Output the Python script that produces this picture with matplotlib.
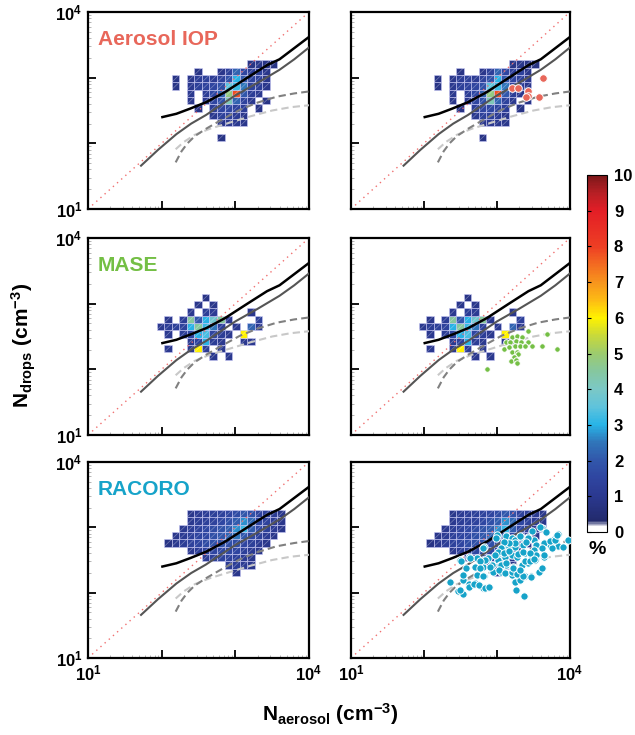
import numpy as np
import matplotlib.pyplot as plt
import matplotlib as mpl
from matplotlib.colors import LinearSegmentedColormap, Normalize
from matplotlib.collections import LineCollection

plt.rcParams['font.family'] = ['Liberation Sans', 'DejaVu Sans']
plt.rcParams['font.weight'] = 'bold'
plt.rcParams['mathtext.fontset'] = 'custom'
plt.rcParams['mathtext.rm'] = 'Liberation Sans:bold'
plt.rcParams['mathtext.bf'] = 'Liberation Sans:bold'
plt.rcParams['mathtext.it'] = 'Liberation Sans:bold'
plt.rcParams['mathtext.default'] = 'rm'

# --- datos ---------------------------------------------------------------
campaigns = ['Aerosol IOP', 'MASE', 'RACORO']
campaign_colors = ['#e8675a', '#74bf45', '#16a3c9']

# bordes de los bins (log10 cm^-3)
x_edges_log = 1.9305 + 0.1025 * np.arange(18)
y_edges_log = 2.033 + 0.112 * np.arange(12)

# frecuencia (%) por celda, fila superior primero
hist_aiop = [
    [0, 0, 0, 0, 0, 0, 0, 0, 0, 0, 0, 0, .8, .9, .8, .8, 0],
    [0, 0, 0, 0, 0, .8, 0, 0, .9, 1.3, 2.2, 1.5, 1.2, 1.4, .9, 0, 0],
    [0, 0, .8, 0, .9, 1.2, 1.3, 1.1, 1.4, 1.8, 3.0, 2.0, 1.5, 1.3, .9, 0, 0],
    [0, 0, .8, 0, 1.0, 1.3, 1.4, 1.5, 1.8, 3.5, 3.2, 2.5, 1.4, 1.2, .9, 0, 0],
    [0, 0, 0, 0, 1.0, 0, 1.2, 1.6, 2.2, 4.8, 7.8, 2.0, 1.2, 1.0, 0, 0, 0],
    [0, 0, 0, 0, .9, 0, 1.0, 1.5, 1.8, 4.2, 2.2, 1.4, 1.0, 0, .8, 0, 0],
    [0, 0, 0, 0, 0, .8, 0, 1.2, 1.5, 1.6, 1.4, 1.2, 0, .8, 0, 0, 0],
    [0, 0, 0, 0, 0, 0, 0, 1.0, 1.3, 1.3, 1.1, .9, 0, 0, 0, 0, 0],
    [0, 0, 0, 0, 0, 0, 0, 0, .9, 1.0, 1.0, .9, 0, 0, 0, 0, 0],
    [0, 0, 0, 0, 0, 0, 0, 0, 0, 0, 0, 0, 0, 0, 0, 0, 0],
    [0, 0, 0, 0, 0, 0, 0, 0, .8, 0, 0, 0, 0, 0, 0, 0, 0],
]
hist_mase = [
    [0, 0, 0, 0, 0, 0, 0, 0, 0, 0, 0, 0, 0, 0, 0, 0, 0],
    [0, 0, 0, 0, 0, 0, .8, 0, 0, 0, 0, 0, 0, 0, 0, 0, 0],
    [0, 0, 0, 0, 0, .9, 0, .9, 0, 0, 0, 0, 0, 0, 0, 0, 0],
    [0, 0, 0, 0, 1.0, 0, 1.2, 1.1, 0, 0, 0, 0, .9, 0, 0, 0, 0],
    [0, .9, 0, 1.2, 4.5, 2.0, 3.0, 3.8, 4.5, 1.0, 0, 0, 0, 1.3, 0, 0, 0],
    [1.0, 1.2, 1.3, 1.4, 3.0, 4.5, 3.2, 2.5, 1.3, 0, 1.0, 0, 2.2, 1.0, 0, 0, 0],
    [0, 1.0, 0, 1.2, 1.5, 3.0, 3.3, 1.5, 1.2, 1.0, 0, 6.0, 0, 0, 0, 0, 0],
    [0, 0, 0, 0, 1.0, 1.3, 3.0, 1.2, 1.0, 0, 0, 1.0, 1.0, 0, 0, 0, 0],
    [0, 1.0, 0, 0, 1.0, 6.0, 1.2, 0, 1.0, 0, 0, 0, 0, 0, 0, 0, 0],
    [0, 0, 0, 0, 0, 0, 0, 1.0, 0, 1.0, 0, 0, 0, 0, 0, 0, 0],
    [0, 0, 0, 0, 0, 0, 0, 0, 0, 0, 0, 0, 0, 0, 0, 0, 0],
]
hist_racoro = [
    [0, 0, 0, 0, .9, 1.1, 1.2, 1.3, 1.4, 1.5, 1.7, 2.0, 1.8, 1.4, 1.3, 1.1, .9],
    [0, 0, 0, 0, 1.0, 1.2, 1.3, 1.4, 1.6, 1.8, 2.1, 2.7, 2.3, 1.6, 1.4, 1.1, .9],
    [0, 0, 0, 1.0, 1.2, 1.4, 1.6, 1.7, 1.9, 2.1, 2.7, 3.2, 2.1, 1.6, 1.3, 1.1, .9],
    [0, 0, .9, 1.1, 1.3, 1.5, 1.6, 1.8, 2.0, 2.2, 2.5, 2.0, 1.6, 1.3, 1.1, .9, 0],
    [0, .8, 1.0, 1.2, 1.4, 1.5, 1.7, 1.8, 1.9, 1.8, 1.7, 1.5, 1.3, 1.1, .9, 0, 0],
    [0, 0, 0, 0, 1.0, 1.2, 1.4, 1.5, 1.6, 1.6, 1.5, 1.3, 1.1, .9, 0, 0, 0],
    [0, 0, 0, 0, 0, 0, 1.1, 1.3, 1.4, 1.4, 1.3, 1.1, .9, 0, 0, 0, 0],
    [0, 0, 0, 0, 0, 0, 0, 0, 0, 1.1, 1.2, 1.1, .9, 0, 0, 0, 0],
    [0, 0, 0, 0, 0, 0, 0, 0, 0, 0, .9, 0, 0, 0, 0, 0, 0],
    [0, 0, 0, 0, 0, 0, 0, 0, 0, 0, 0, 0, 0, 0, 0, 0, 0],
    [0, 0, 0, 0, 0, 0, 0, 0, 0, 0, 0, 0, 0, 0, 0, 0, 0],
]
hists = [hist_aiop, hist_mase, hist_racoro]

# curvas de parametrizacion (log10)
black_x = [2.01, 2.20, 2.39, 2.61, 2.86, 3.15, 3.43, 3.60, 3.80, 4.00]
black_y = [2.40, 2.45, 2.53, 2.63, 2.78, 2.99, 3.19, 3.28, 3.45, 3.62]
gray_x = [1.72, 1.95, 2.20, 2.40, 2.60, 2.80, 3.00, 3.30, 3.60, 3.80, 4.00]
gray_y = [1.66, 1.90, 2.14, 2.30, 2.43, 2.58, 2.73, 2.92, 3.12, 3.28, 3.46]
dash_dark_x = [2.19, 2.27, 2.35, 2.45, 2.60, 2.80, 3.06, 3.30, 3.56, 3.80, 4.00]
dash_dark_y = [1.71, 1.88, 2.00, 2.11, 2.22, 2.35, 2.51, 2.62, 2.71, 2.76, 2.79]
dash_light_x = [2.19, 2.30, 2.45, 2.65, 2.88, 3.20, 3.50, 3.75, 4.00]
dash_light_y = [1.91, 2.02, 2.13, 2.22, 2.30, 2.41, 2.50, 2.55, 2.58]

# observaciones (log10 Naerosol, log10 Ndrops)
aiop_obs_x = [3.63, 3.20, 3.29, 3.42, 3.43, 3.40, 3.58]
aiop_obs_y = [3.00, 2.84, 2.84, 2.79, 2.72, 2.70, 2.70]
mase_obs_x = [3.42, 3.68, 3.21, 3.27, 3.34, 3.12, 3.18, 3.26, 3.33, 3.43,
              3.10, 3.17, 3.24, 3.32, 3.39, 3.48, 3.61, 3.82, 3.20, 3.27,
              3.29, 3.23, 3.19, 3.26, 3.27, 2.86]
mase_obs_y = [2.58, 2.54, 2.50, 2.51, 2.49, 2.41, 2.42, 2.43, 2.41, 2.41,
              2.31, 2.34, 2.35, 2.35, 2.36, 2.35, 2.35, 2.31, 2.27, 2.27,
              2.24, 2.19, 2.12, 2.14, 2.09, 2.00]
racoro_obs_x = [3.48, 3.62, 3.67, 3.83, 3.78, 3.72, 3.83, 3.90, 3.97, 3.64,
                3.51, 3.53, 3.00, 2.98, 3.12, 3.20, 3.25, 3.33, 3.41, 3.42,
                2.82, 3.09, 3.16, 3.25, 3.35, 3.50, 3.61, 2.61, 2.72, 2.81,
                2.88, 3.00, 3.02, 3.11, 3.20, 3.27, 3.38, 3.46, 3.54, 2.49,
                2.58, 2.70, 2.81, 2.93, 3.04, 3.13, 3.22, 3.34, 3.43, 3.52,
                3.64, 2.72, 2.82, 2.95, 3.06, 3.20, 3.29, 3.38, 3.47, 3.58,
                3.62, 2.36, 2.54, 2.61, 2.70, 2.61, 2.81, 2.88, 3.25, 3.32,
                2.47, 2.54, 3.26, 3.37, 3.32, 3.43, 3.40, 3.25, 3.16, 3.09,
                3.05, 3.02, 3.09, 3.16, 3.29, 3.36, 3.45, 3.64, 2.90, 3.06,
                3.13, 3.38, 3.45, 3.50, 3.03, 3.11, 3.20, 3.27, 3.36, 3.46,
                3.22, 3.32, 2.84, 2.97, 2.77, 2.81, 2.77, 2.81, 2.54, 2.68,
                2.76, 2.84, 2.89, 2.49, 3.76, 3.72, 3.79, 3.82, 3.59, 2.63,
                2.50]
racoro_obs_y = [2.94, 2.99, 2.93, 2.90, 2.82, 2.73, 2.71, 2.70, 2.80, 2.76,
                2.81, 2.73, 2.88, 2.83, 2.86, 2.83, 2.81, 2.85, 2.81, 2.85,
                2.70, 2.73, 2.70, 2.70, 2.73, 2.65, 2.68, 2.54, 2.53, 2.50,
                2.53, 2.58, 2.50, 2.55, 2.58, 2.55, 2.60, 2.57, 2.58, 2.50,
                2.37, 2.40, 2.40, 2.42, 2.42, 2.42, 2.40, 2.42, 2.45, 2.50,
                2.55, 2.27, 2.26, 2.32, 2.32, 2.27, 2.30, 2.26, 2.25, 2.32,
                2.37, 2.17, 2.19, 2.14, 2.15, 2.08, 2.07, 2.09, 2.17, 2.19,
                2.03, 1.98, 2.04, 1.95, 2.86, 2.84, 2.78, 2.76, 2.76, 2.78,
                2.69, 2.63, 2.60, 2.64, 2.59, 2.62, 2.60, 2.57, 2.40, 2.43,
                2.45, 2.48, 2.49, 2.52, 2.35, 2.30, 2.32, 2.28, 2.26, 2.24,
                2.37, 2.35, 2.50, 2.58, 2.48, 2.69, 2.38, 2.26, 2.27, 2.14,
                2.12, 2.07, 2.09, 2.04, 2.69, 2.79, 2.81, 2.89, 3.01, 2.53,
                2.49]
obs = [(aiop_obs_x, aiop_obs_y), (mase_obs_x, mase_obs_y), (racoro_obs_x, racoro_obs_y)]
obs_sizes = [30, 16, 28]

# --- colormap ------------------------------------------------------------
cmap = LinearSegmentedColormap.from_list('pct', [
    (0.0, '#ffffff'), (0.012, '#ffffff'), (0.03, '#222a6c'), (0.1, '#2b3990'),
    (0.15, '#2f45a0'), (0.2, '#3157ab'), (0.25, '#3075b9'), (0.3, '#28b4e7'),
    (0.35, '#5fc3dc'), (0.4, '#7bc8c6'), (0.45, '#86c79f'), (0.5, '#9ccb6e'),
    (0.55, '#c8d93b'), (0.6, '#fff200'), (0.65, '#fdbb14'), (0.7, '#f7941d'),
    (0.75, '#f36b21'), (0.8, '#ee3f24'), (0.9, '#e31e26'), (0.95, '#b81f25'),
    (1.0, '#7d1719')])
norm = Normalize(0, 10)

xe = 10 ** x_edges_log
ye = 10 ** y_edges_log

# --- figura --------------------------------------------------------------
fig = plt.figure(figsize=(6.35, 7.35), dpi=100)
W, H = 635.0, 735.0
col_px = [(88, 221), (351, 219)]
row_px = [(12, 197), (238, 197), (462, 196)]

for r in range(3):
    arr = np.array(hists[r])[::-1]
    jj, ii = np.nonzero(arr)
    for c in range(2):
        x0, w = col_px[c]
        y0, h = row_px[r]
        ax = fig.add_axes([x0 / W, 1 - (y0 + h) / H, w / W, h / H])
        ax.set_xscale('log')
        ax.set_yscale('log')

        # celdas del histograma (solo las no vacias)
        ax.bar(xe[ii], ye[jj + 1] - ye[jj], width=xe[ii + 1] - xe[ii], bottom=ye[jj],
               align='edge', color=cmap(norm(arr[jj, ii])),
               edgecolor=(0.78, 0.78, 0.96, 0.8), linewidth=0.5, zorder=1)
        diag = [[(xe[i], ye[j]), (xe[i + 1], ye[j + 1])] for i, j in zip(ii, jj)]
        ax.add_collection(LineCollection(diag, colors=[(1, 1, 1, 0.35)],
                                         linewidths=0.5, zorder=1.5))

        ax.plot([10, 1e4], [10, 1e4], color='#f07070', lw=1.0,
                linestyle=(0, (1, 3)), zorder=2)
        ax.plot(10 ** np.array(dash_light_x), 10 ** np.array(dash_light_y),
                color='#c8c8c8', lw=1.5, dashes=(3.5, 2), zorder=3)
        ax.plot(10 ** np.array(dash_dark_x), 10 ** np.array(dash_dark_y),
                color='#808080', lw=1.5, dashes=(3.5, 2), zorder=3)
        ax.plot(10 ** np.array(gray_x), 10 ** np.array(gray_y),
                color='#555555', lw=1.5, zorder=4)
        ax.plot(10 ** np.array(black_x), 10 ** np.array(black_y),
                color='black', lw=1.8, zorder=5)

        if c == 1:
            ox, oy = obs[r]
            ax.scatter(10 ** np.array(ox), 10 ** np.array(oy), s=obs_sizes[r],
                       c=campaign_colors[r], edgecolors='white', linewidths=0.7,
                       zorder=6)
        else:
            ax.text(0.045, 0.83, campaigns[r], transform=ax.transAxes,
                    color=campaign_colors[r], fontsize=15, fontweight='bold')

        ax.set_xlim(10, 1e4)
        ax.set_ylim(10, 1e4)
        ax.set_xticks([10, 100, 1000, 10000])
        ax.set_yticks([10, 100, 1000, 10000])
        ax.set_xticklabels([r'$10^1$', '', '', r'$10^4$'] if r == 2 else [])
        ax.set_yticklabels([r'$10^1$', '', '', r'$10^4$'] if c == 0 else [])
        ax.tick_params(which='major', direction='in', length=6, width=1.3,
                       labelsize=12, pad=4)
        ax.tick_params(which='minor', direction='in', length=2, width=0.5,
                       color='#999999')
        for s in ax.spines.values():
            s.set_linewidth(1.6)

# barra de color
cax = fig.add_axes([587 / W, 1 - 532 / H, 20 / W, 357 / H])
cb = fig.colorbar(mpl.cm.ScalarMappable(norm=norm, cmap=cmap), cax=cax,
                  ticks=range(11))
cb.outline.set_linewidth(0.8)
cax.tick_params(axis='y', direction='in', length=3, width=0.8, left=True,
                right=False, labelleft=False, labelright=True, labelsize=12, pad=5)
fig.text(597 / W, 1 - 549 / H, '%', ha='center', va='center', fontsize=14,
         fontweight='bold')

fig.text(330 / W, 1 - 714 / H, r'$N_{aerosol}\ (cm^{-3})$', ha='center',
         va='center', fontsize=15)
fig.text(24 / W, 1 - 345 / H, r'$N_{drops}\ (cm^{-3})$', ha='center',
         va='center', fontsize=15, rotation=90)

plt.savefig('out.png', dpi=100)
